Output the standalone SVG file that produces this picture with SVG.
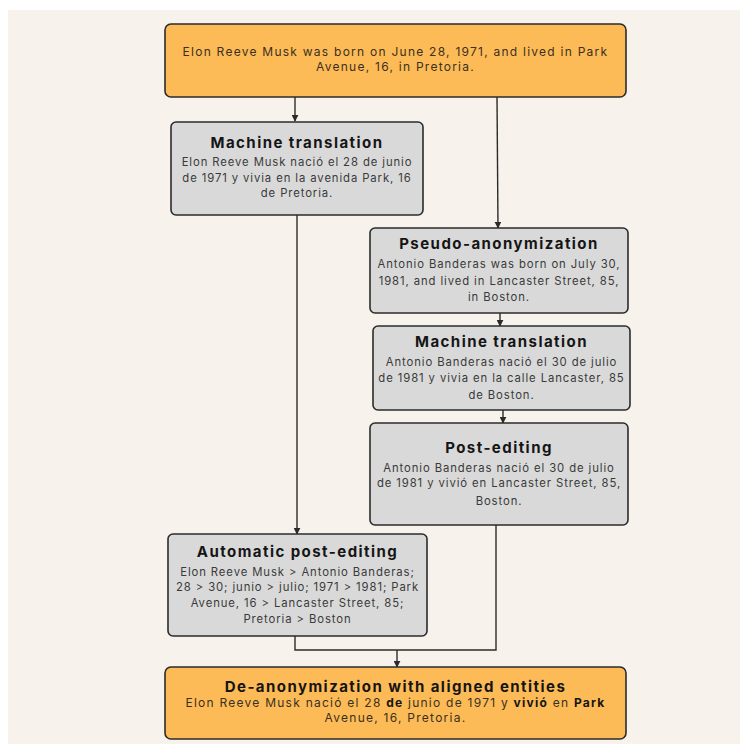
<svg xmlns="http://www.w3.org/2000/svg" width="740" height="744" viewBox="0 0 740 744">
<defs>
<style>
.bg{fill:#f7f3ec}
.orange{fill:#fdbb57;stroke:#2b2b2b;stroke-width:1.6}
.gray{fill:#d9d9d9;stroke:#2b2b2b;stroke-width:1.6}
.title{font-family:Inter,"Noto Sans",sans-serif;font-weight:700;font-size:15px;fill:#151515;text-anchor:middle;letter-spacing:1.45px}
.body{font-family:Inter,"Noto Sans",sans-serif;font-size:11.3px;fill:#3a3a3a;text-anchor:middle;letter-spacing:0.9px}
.obody{font-family:Inter,"Noto Sans",sans-serif;font-size:12px;fill:#3a3020;text-anchor:middle;letter-spacing:1.25px}
.b{font-weight:700;fill:#151515}
.conn{fill:none;stroke:#2b2b2b;stroke-width:1.4}
</style>
<marker id="arr" viewBox="0 0 10 10" refX="9" refY="5" markerWidth="7" markerHeight="7" markerUnits="userSpaceOnUse" orient="auto">
<path d="M0,0 L10,5 L0,10 z" fill="#2b2b2b"/>
</marker>
</defs>
<rect x="0" y="0" width="740" height="744" fill="#ffffff"/>
<rect class="bg" x="8" y="10" width="732" height="734"/>

<g id="connectors">
<path class="conn" d="M295,97 V121" marker-end="url(#arr)"/>
<path class="conn" d="M497,97 L498,228" marker-end="url(#arr)"/>
<path class="conn" d="M500,313 V326" marker-end="url(#arr)"/>
<path class="conn" d="M503,410 V423" marker-end="url(#arr)"/>
<path class="conn" d="M297,215 V534" marker-end="url(#arr)"/>
<path class="conn" d="M295,636 V650 H496 V525"/>
<path class="conn" d="M397,650 V667" marker-end="url(#arr)"/>
</g>

<g id="source">
<rect class="orange" x="165" y="24" width="461" height="73" rx="6"/>
<text class="obody" x="395.5" y="56">Elon Reeve Musk was born on June 28, 1971, and lived in Park</text>
<text class="obody" x="395.5" y="71">Avenue, 16, in Pretoria.</text>
</g>

<g id="mt-left">
<rect class="gray" x="171" y="122" width="252" height="93" rx="5"/>
<text class="title" x="297" y="148">Machine translation</text>
<text class="body" x="297" y="166">Elon Reeve Musk nació el 28 de junio</text>
<text class="body" x="297" y="182">de 1971 y vivia en la avenida Park, 16</text>
<text class="body" x="297" y="197">de Pretoria.</text>
</g>

<g id="pseudo">
<rect class="gray" x="370" y="228" width="258" height="85" rx="5"/>
<text class="title" x="499" y="249">Pseudo-anonymization</text>
<text class="body" x="499" y="268">Antonio Banderas was born on July 30,</text>
<text class="body" x="499" y="285">1981, and lived in Lancaster Street, 85,</text>
<text class="body" x="499" y="301">in Boston.</text>
</g>

<g id="mt-right">
<rect class="gray" x="373" y="326" width="257" height="84" rx="5"/>
<text class="title" x="501.5" y="347">Machine translation</text>
<text class="body" x="501.5" y="366">Antonio Banderas nació el 30 de julio</text>
<text class="body" x="501.5" y="382">de 1981 y vivia en la calle Lancaster, 85</text>
<text class="body" x="501.5" y="399">de Boston.</text>
</g>

<g id="post-editing">
<rect class="gray" x="370" y="423" width="258" height="102" rx="5"/>
<text class="title" x="499" y="453">Post-editing</text>
<text class="body" x="499" y="472">Antonio Banderas nació el 30 de julio</text>
<text class="body" x="499" y="487">de 1981 y vivió en Lancaster Street, 85,</text>
<text class="body" x="499" y="505">Boston.</text>
</g>

<g id="ape">
<rect class="gray" x="168" y="534" width="259" height="102" rx="5"/>
<text class="title" x="297.5" y="557">Automatic post-editing</text>
<text class="body" x="297.5" y="576">Elon Reeve Musk &gt; Antonio Banderas;</text>
<text class="body" x="297.5" y="591">28 &gt; 30; junio &gt; julio; 1971 &gt; 1981; Park</text>
<text class="body" x="297.5" y="607">Avenue, 16 &gt; Lancaster Street, 85;</text>
<text class="body" x="297.5" y="623">Pretoria &gt; Boston</text>
</g>

<g id="deanon">
<rect class="orange" x="165" y="667" width="461" height="72" rx="6"/>
<text class="title" x="395.5" y="692">De-anonymization with aligned entities</text>
<text class="obody" x="395.5" y="707">Elon Reeve Musk nació el 28 <tspan class="b">de</tspan> junio de 1971 y <tspan class="b">vivió</tspan> en <tspan class="b">Park</tspan></text>
<text class="obody" x="395.5" y="722">Avenue, 16, Pretoria.</text>
</g>
</svg>
